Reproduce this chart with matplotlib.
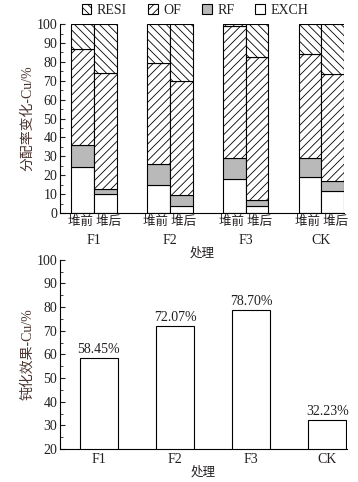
import numpy as np
import matplotlib
matplotlib.use("Agg")
import matplotlib.pyplot as plt
from matplotlib.patches import Patch
from matplotlib.ticker import MultipleLocator

plt.rcParams['font.family'] = ['Liberation Serif', 'Noto Sans CJK SC']
plt.rcParams['hatch.linewidth'] = 0.6
plt.rcParams['font.size'] = 10

groups = ['F1', 'F2', 'F3', 'CK']
stage_label = '堆前 堆后'

# fractions (%) before / after composting
exch_before = [24.2, 14.8, 17.8, 19.0]
rf_before = [11.8, 11.3, 11.5, 10.1]
of_before = [50.6, 53.1, 69.6, 54.9]
resi_before = [13.4, 20.8, 1.1, 16.0]

exch_after = [9.9, 3.9, 3.5, 11.6]
rf_after = [2.8, 5.8, 3.2, 5.5]
of_after = [61.5, 60.3, 75.7, 56.6]
resi_after = [25.8, 30.0, 17.6, 26.3]

# passivation effect
passivation = [58.45, 72.07, 78.70, 32.23]

text_col = '#231f20'
label_col = '#4a3430'
cjk_size = 9

fig = plt.figure(figsize=(3.58, 4.82), dpi=100)
ax1 = fig.add_axes([0.168, 0.558, 0.793, 0.392])
ax2 = fig.add_axes([0.168, 0.0685, 0.801, 0.3925])

x = np.arange(len(groups))
w = 0.3
styles = [
    ('EXCH', 'white', None),
    ('RF', '#b9b9b9', None),
    ('OF', 'white', '////'),
    ('RESI', 'white', '\\\\\\\\'),
]

for off, parts in [(-w / 2, [exch_before, rf_before, of_before, resi_before]),
                   (w / 2, [exch_after, rf_after, of_after, resi_after])]:
    bottom = np.zeros(len(groups))
    for (name, fc, hatch), vals in zip(styles, parts):
        ax1.bar(x + off, vals, w, bottom=bottom, color=fc, hatch=hatch,
                edgecolor='black', linewidth=0.8)
        bottom += np.array(vals)

ax1.set_xlim(-0.45, 3.3)
ax1.set_ylim(0, 100)
ax1.yaxis.set_major_locator(MultipleLocator(10))
ax1.yaxis.set_minor_locator(MultipleLocator(5))
ax1.set_xticks(x)
ax1.set_xticklabels([stage_label] * len(groups), fontsize=cjk_size)
ax1.set_xticks(x + 0.001, minor=True)
ax1.set_xticklabels(groups, minor=True)
ax1.tick_params(axis='x', which='major', length=0, pad=2, colors=text_col)
ax1.tick_params(axis='x', which='minor', length=0, pad=15, colors=text_col)
ax1.tick_params(axis='y', which='both', direction='in', colors=text_col, pad=2)
ax1.tick_params(axis='y', which='major', length=3.5)
ax1.tick_params(axis='y', which='minor', length=2)
ax1.set_xlabel('处理', color=text_col, labelpad=0, fontsize=cjk_size)
ax1.set_ylabel('分配率变化-Cu/%', color=label_col, labelpad=2)
for s in ['top', 'right']:
    ax1.spines[s].set_visible(False)

handles = [Patch(facecolor=fc, edgecolor='black', hatch=h, linewidth=0.8, label=n)
           for n, fc, h in styles[::-1]]
ax1.legend(handles=handles, loc='lower center', bbox_to_anchor=(0.475, 1.0),
           ncol=4, frameon=False, handlelength=0.7, handleheight=0.7,
           handletextpad=0.4, columnspacing=1.5, borderaxespad=0.1,
           labelcolor=text_col)

bars = ax2.bar(x, passivation, 0.5, color='white', edgecolor='black', linewidth=0.8)
for b, v in zip(bars, passivation):
    ax2.text(b.get_x() + b.get_width() / 2, v + 0.8, f'{v:.2f}%',
             ha='center', va='bottom', color=text_col)
ax2.set_xlim(-0.51, 3.26)
ax2.set_ylim(20, 100)
ax2.yaxis.set_major_locator(MultipleLocator(10))
ax2.yaxis.set_minor_locator(MultipleLocator(5))
ax2.set_xticks(x)
ax2.set_xticklabels(groups)
ax2.tick_params(axis='x', length=0, pad=3, colors=text_col)
ax2.tick_params(axis='y', which='both', direction='in', colors=text_col, pad=2)
ax2.tick_params(axis='y', which='major', length=3.5)
ax2.tick_params(axis='y', which='minor', length=2)
ax2.set_xlabel('处理', color=text_col, labelpad=0, fontsize=cjk_size)
ax2.set_ylabel('钝化效果-Cu/%', color=label_col, labelpad=2)
for s in ['top', 'right']:
    ax2.spines[s].set_visible(False)

fig.savefig('out.png', dpi=100)
